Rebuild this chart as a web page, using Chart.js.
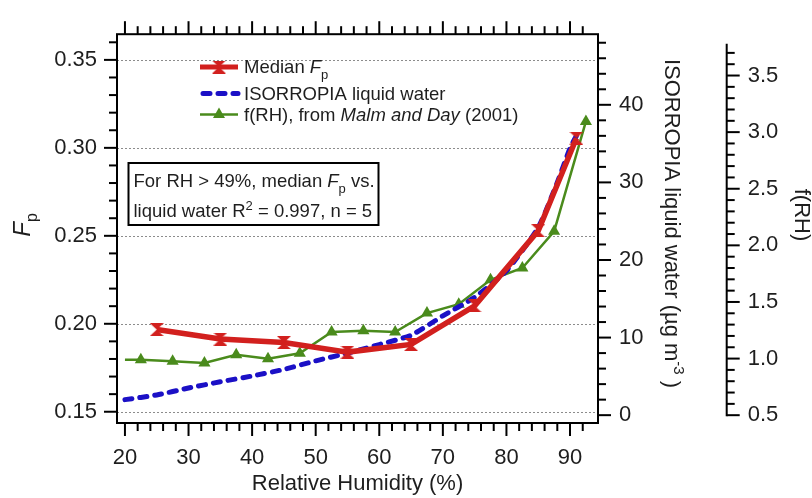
<!DOCTYPE html>
<html>
<head>
<meta charset="utf-8">
<script src="https://cdn.jsdelivr.net/npm/chart.js@4.4.1/dist/chart.umd.min.js"></script>
<style>
  html, body { margin: 0; padding: 0; background: #fff; }
  #wrap { width: 812px; height: 498px; position: relative; }
</style>
</head>
<body>
<div id="wrap"><canvas id="chart"></canvas></div>
<script>
// --- data ---
const rhMedian = [25, 35, 45, 55, 65, 75, 85, 91];
const fpMedian = [0.1967, 0.1913, 0.1893, 0.1839, 0.1883, 0.2102, 0.2529, 0.3055];

const rhWater = [20, 25, 30, 35, 40, 45, 50, 55, 60, 65, 70, 75, 80, 85, 88, 90, 91];
const liquidWater = [2.0, 2.6, 3.5, 4.3, 5.05, 5.9, 7.0, 8.0, 9.1, 10.3, 12.8, 15.2, 18.6, 24.2, 30.0, 34.4, 36.0];

const rhFrh = [20, 22.5, 27.5, 32.5, 37.5, 42.5, 47.5, 52.5, 57.5, 62.5, 67.5, 72.5, 77.5, 82.5, 87.5, 92.5];
const fRH = [0.99, 0.99, 0.976, 0.962, 1.034, 0.999, 1.047, 1.235, 1.246, 1.235, 1.402, 1.48, 1.696, 1.80, 2.124, 3.095];

// tick labels (major) and minor tick steps
const xMajorTicks = [20, 30, 40, 50, 60, 70, 80, 90];
const fpMajorTicks = [0.15, 0.20, 0.25, 0.30, 0.35];
const waterMajorTicks = [0, 10, 20, 30, 40];
const frhMajorTicks = [0.5, 1.0, 1.5, 2.0, 2.5, 3.0, 3.5];

const RED = '#d2201e';
const BLUE = '#1b10c6';
const GREEN = '#4a8b1c';
const INK = '#1e1e1e';
const FONT = '"Liberation Sans", Arial, Helvetica, sans-serif';
const TICK_SIZE = 22;
const NOTE_SIZE = 18.5;

const steps = (from, to, step) => {
  const out = [];
  for (let v = from; v <= to + step / 1000; v += step) out.push(Math.round(v * 1000) / 1000);
  return out;
};
const isMajor = (list, v) => list.some(m => Math.abs(m - v) < 1e-6);

const xTicks = steps(20, 92, 2);
const fpTicks = steps(0.15, 0.36, 0.01);
const waterTicks = steps(0, 48, 2);
const frhTicks = steps(0.5, 3.7, 0.1);
const frhAxisTop = 3.78;

// hourglass marker for the median trace
const hourglass = (() => {
  const c = document.createElement('canvas');
  c.width = 14; c.height = 13;
  const g = c.getContext('2d');
  g.fillStyle = RED;
  g.beginPath();
  g.moveTo(0, 0); g.lineTo(14, 0); g.lineTo(7, 6.5); g.closePath();
  g.moveTo(0, 13); g.lineTo(14, 13); g.lineTo(7, 6.5); g.closePath();
  g.fill();
  return c;
})();

function fontFor(p, size) {
  const s = (p.sub || p.sup) ? Math.round(size * 0.68) : size;
  return (p.it ? 'italic ' : '') + s + 'px ' + FONT;
}
function richWidth(ctx, parts, size) {
  let w = 0;
  parts.forEach(p => { ctx.font = fontFor(p, size); w += ctx.measureText(p.t).width; });
  return w;
}
function drawRich(ctx, parts, x, y, size) {
  parts.forEach(p => {
    ctx.font = fontFor(p, size);
    const dy = p.sub ? size * 0.3 : p.sup ? -size * 0.4 : 0;
    ctx.fillText(p.t, x, y + dy);
    x += ctx.measureText(p.t).width;
  });
}

const tickFont = { family: FONT, size: TICK_SIZE };

const decorations = {
  id: 'decorations',
  beforeDatasetsDraw(chart) {
    const { ctx, chartArea: a, scales } = chart;
    ctx.save();
    ctx.strokeStyle = '#8c8c8c';
    ctx.lineWidth = 1;
    ctx.setLineDash([2, 2]);
    fpMajorTicks.forEach(v => {
      const y = Math.round(scales.y.getPixelForValue(v)) + 0.5;
      ctx.beginPath(); ctx.moveTo(a.left, y); ctx.lineTo(a.right, y); ctx.stroke();
    });
    ctx.restore();
  },
  afterDatasetsDraw(chart) {
    const { ctx, chartArea: a, scales } = chart;
    ctx.save();
    ctx.strokeStyle = '#000';
    ctx.lineWidth = 2;
    ctx.lineCap = 'butt';
    ctx.strokeRect(a.left, a.top, a.right - a.left, a.bottom - a.top);

    const line = (x1, y1, x2, y2) => { ctx.beginPath(); ctx.moveTo(x1, y1); ctx.lineTo(x2, y2); ctx.stroke(); };
    const len = (list, v) => isMajor(list, v) ? 13 : 8;

    xTicks.forEach(v => {
      const x = scales.x.getPixelForValue(v);
      const l = len(xMajorTicks, v);
      line(x, a.bottom, x, a.bottom + l);
      line(x, a.top, x, a.top - l);
    });
    fpTicks.forEach(v => {
      const y = scales.y.getPixelForValue(v);
      line(a.left, y, a.left - len(fpMajorTicks, v), y);
    });
    waterTicks.forEach(v => {
      const y = scales.yw.getPixelForValue(v);
      line(a.right, y, a.right + len(waterMajorTicks, v), y);
    });
    const fx = scales.yf.left;
    line(fx, scales.yf.getPixelForValue(0.5) + 1, fx, scales.yf.getPixelForValue(frhAxisTop));
    frhTicks.forEach(v => {
      const y = scales.yf.getPixelForValue(v);
      line(fx, y, fx + len(frhMajorTicks, v), y);
    });
    ctx.restore();
  },
  afterDraw(chart) {
    const { ctx } = chart;
    ctx.save();
    ctx.fillStyle = INK;
    ctx.textBaseline = 'alphabetic';
    ctx.textAlign = 'left';

    // axis titles
    const fpTitle = [{ t: 'F', it: true }, { t: 'p', sub: true }];
    ctx.save();
    ctx.translate(30, 225);
    ctx.rotate(-Math.PI / 2);
    drawRich(ctx, fpTitle, -richWidth(ctx, fpTitle, 24) / 2, 0, 24);
    ctx.restore();

    const waterTitle = [{ t: 'ISORROPIA liquid water (\u00b5g m' }, { t: '-3', sup: true }, { t: ' )' }];
    ctx.save();
    ctx.translate(665, 223.5);
    ctx.rotate(Math.PI / 2);
    drawRich(ctx, waterTitle, -richWidth(ctx, waterTitle, TICK_SIZE) / 2, 0, TICK_SIZE);
    ctx.restore();

    const frhTitle = [{ t: 'f(RH)' }];
    ctx.save();
    ctx.translate(795, 215);
    ctx.rotate(Math.PI / 2);
    drawRich(ctx, frhTitle, -richWidth(ctx, frhTitle, TICK_SIZE) / 2, 0, TICK_SIZE);
    ctx.restore();

    const xTitle = [{ t: 'Relative Humidity (%)' }];
    drawRich(ctx, xTitle, 357.5 - richWidth(ctx, xTitle, TICK_SIZE) / 2, 490, TICK_SIZE);

    // legend
    const lx1 = 200, lx2 = 238, lmid = 219, tx = 244;
    ctx.lineWidth = 5;
    ctx.strokeStyle = RED;
    ctx.beginPath(); ctx.moveTo(lx1, 67); ctx.lineTo(lx2, 67); ctx.stroke();
    ctx.drawImage(hourglass, lmid - 7, 67 - 6.5);

    ctx.strokeStyle = BLUE;
    ctx.lineCap = 'round';
    ctx.setLineDash([7, 8]);
    ctx.beginPath(); ctx.moveTo(lx1 + 3, 93.5); ctx.lineTo(lx2, 93.5); ctx.stroke();
    ctx.setLineDash([]);
    ctx.lineCap = 'butt';

    ctx.strokeStyle = GREEN;
    ctx.fillStyle = GREEN;
    ctx.lineWidth = 2.5;
    ctx.beginPath(); ctx.moveTo(lx1, 114.5); ctx.lineTo(lx2, 114.5); ctx.stroke();
    ctx.beginPath();
    ctx.moveTo(lmid, 114.5 - 7); ctx.lineTo(lmid + 6, 114.5 + 3.5); ctx.lineTo(lmid - 6, 114.5 + 3.5); ctx.closePath();
    ctx.fill();

    ctx.fillStyle = INK;
    drawRich(ctx, [{ t: 'Median ' }, { t: 'F', it: true }, { t: 'p', sub: true }], tx, 73, NOTE_SIZE);
    drawRich(ctx, [{ t: 'ISORROPIA liquid water' }], tx, 99.5, NOTE_SIZE);
    drawRich(ctx, [{ t: 'f(RH), from ' }, { t: 'Malm and Day', it: true }, { t: ' (2001)' }], tx, 120.5, NOTE_SIZE);

    // annotation box
    ctx.fillStyle = '#fff';
    ctx.fillRect(128.5, 163, 250, 62);
    ctx.strokeStyle = '#000';
    ctx.lineWidth = 2;
    ctx.strokeRect(128.5, 163, 250, 62);
    ctx.fillStyle = INK;
    drawRich(ctx, [{ t: 'For RH > 49%, median ' }, { t: 'F', it: true }, { t: 'p', sub: true }, { t: ' vs.' }], 133.5, 187, NOTE_SIZE);
    drawRich(ctx, [{ t: 'liquid water R' }, { t: '2', sup: true }, { t: ' = 0.997, n = 5' }], 133.5, 217, NOTE_SIZE);
    ctx.restore();
  }
};

const pts = (xs, ys) => xs.map((x, i) => ({ x, y: ys[i] }));

new Chart(document.getElementById('chart'), {
  type: 'line',
  data: {
    datasets: [
      {
        label: 'Median Fp',
        data: pts(rhMedian, fpMedian),
        yAxisID: 'y',
        borderColor: RED,
        backgroundColor: RED,
        borderWidth: 5.5,
        pointStyle: hourglass,
        pointRadius: 7,
        tension: 0
      },
      {
        label: 'ISORROPIA liquid water',
        data: pts(rhWater, liquidWater),
        yAxisID: 'yw',
        borderColor: BLUE,
        borderWidth: 5,
        borderDash: [7, 8],
        borderCapStyle: 'round',
        pointRadius: 0,
        tension: 0.2
      },
      {
        label: 'f(RH), from Malm and Day (2001)',
        data: pts(rhFrh, fRH),
        yAxisID: 'yf',
        borderColor: GREEN,
        backgroundColor: GREEN,
        borderWidth: 2.5,
        pointStyle: 'triangle',
        pointRadius: rhFrh.map((v, i) => i === 0 ? 0 : 7),
        pointBorderWidth: 0,
        tension: 0
      }
    ]
  },
  options: {
    responsive: true,
    maintainAspectRatio: false,
    animation: false,
    layout: { padding: { top: 26, left: 0, right: 0, bottom: 0 } },
    plugins: { legend: { display: false }, tooltip: { enabled: false } },
    scales: {
      x: {
        type: 'linear',
        min: 18.75,
        max: 94.4,
        afterFit: s => { s.height = 75; },
        afterBuildTicks: s => { s.ticks = xTicks.map(v => ({ value: v })); },
        grid: { display: false, drawTicks: false },
        border: { display: false },
        ticks: {
          autoSkip: false, maxRotation: 0, padding: 22, color: INK, font: tickFont,
          callback: v => isMajor(xMajorTicks, v) ? String(v) : ''
        }
      },
      y: {
        position: 'left',
        min: 0.1436,
        max: 0.3646,
        afterFit: s => { s.width = 117; },
        afterBuildTicks: s => { s.ticks = fpTicks.map(v => ({ value: v })); },
        grid: { display: false, drawTicks: false },
        border: { display: false },
        ticks: {
          autoSkip: false, padding: 20, color: INK, font: tickFont,
          callback: v => isMajor(fpMajorTicks, v) ? v.toFixed(2) : ''
        }
      },
      yw: {
        position: 'right',
        min: -1.01,
        max: 49.1,
        afterFit: s => { s.width = 128.7; },
        afterBuildTicks: s => { s.ticks = waterTicks.map(v => ({ value: v })); },
        grid: { display: false, drawTicks: false },
        border: { display: false },
        ticks: {
          autoSkip: false, padding: 21, color: INK, font: tickFont,
          callback: v => isMajor(waterMajorTicks, v) ? String(Math.round(v)) : ''
        }
      },
      yf: {
        position: 'right',
        min: 0.431,
        max: 3.865,
        afterFit: s => { s.width = 85.3; },
        afterBuildTicks: s => { s.ticks = frhTicks.map(v => ({ value: v })); },
        grid: { display: false, drawTicks: false },
        border: { display: false },
        ticks: {
          autoSkip: false, padding: 21, color: INK, font: tickFont,
          callback: v => isMajor(frhMajorTicks, v) ? v.toFixed(1) : ''
        }
      }
    }
  },
  plugins: [decorations]
});
</script>
</body>
</html>
